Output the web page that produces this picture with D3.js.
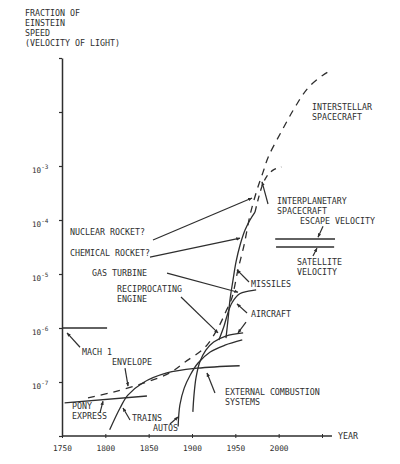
<!DOCTYPE html>
<html>
<head>
<meta charset="utf-8">
<script src="https://cdn.jsdelivr.net/npm/d3@7"></script>
<style>
  body { margin: 0; background: #fff; }
  svg text { font-family: "DejaVu Sans Mono", monospace; fill: #2e2e2e; }
</style>
</head>
<body>
<svg id="chart"></svg>
<script>
// axis ticks
const yearTicks = [1750, 1800, 1850, 1900, 1950, 2000, 2050];
const yearLabels = ['1750', '1800', '1850', '1900', '1950', '2000', ''];
const speedTicks = [1e-1, 1e-2, 1e-3, 1e-4, 1e-5, 1e-6, 1e-7, 1e-8];
const speedExponents = ['', '', '-3', '-4', '-5', '-6', '-7', ''];
const titleLines = ['FRACTION OF', 'EINSTEIN', 'SPEED', '(VELOCITY OF LIGHT)'];

// curves: [year, fraction of light speed]
const ponyExpress = [[1753, 4.1e-8], [1848, 5.5e-8]];
const mach1 = [[1750, 1e-6], [1802, 1e-6]];
const trains = [[1805, 1.3e-8], [1817, 3.3e-8], [1826, 5.7e-8], [1843, 9.6e-8], [1871, 1.47e-7], [1906, 1.8e-7], [1955, 2.0e-7]];
const autos = [[1884, 1.5e-8], [1886, 3.75e-8], [1891, 7.7e-8], [1898, 1.35e-7], [1907, 2.25e-7], [1921, 3.6e-7], [1938, 4.8e-7], [1958, 6.0e-7]];
const reciprocating = [[1901, 2.8e-8], [1902.3, 5.7e-8], [1904.6, 1.19e-7], [1909, 2.35e-7], [1916, 3.9e-7], [1925, 5.5e-7], [1939, 7.1e-7], [1959, 8.1e-7]];
const gasTurbine = [[1931, 6.0e-7], [1937, 1.09e-6], [1940, 1.6e-6], [1946, 2.9e-6], [1955, 4.3e-6], [1965, 4.8e-6], [1974, 5.1e-6]];
const rockets = [[1939.2, 6.5e-7], [1941.5, 1.4e-6], [1943.8, 3.3e-6], [1947.3, 7.7e-6], [1950.8, 1.67e-5], [1955.4, 3.4e-5], [1961.2, 6.5e-5], [1966.9, 1.0e-4], [1972.7, 1.4e-4]];
const interplanetary = [[1972.7, 1.4e-4], [1976, 2.3e-4], [1981, 4.3e-4], [1986.5, 6.5e-4], [1993.5, 8.4e-4], [2003, 9.6e-4]];
const envelope = [[1780, 5.1e-8], [1809, 6.5e-8], [1848, 1.0e-7], [1875, 1.5e-7], [1892, 2.35e-7], [1915, 4.4e-7], [1930, 1.0e-6], [1939, 2.0e-6], [1946, 3.6e-6], [1953, 1.19e-5], [1960, 3.4e-5], [1967, 1.24e-4], [1975, 3.6e-4], [1982, 7.7e-4], [1988, 1.47e-3], [2004, 4.6e-3], [2019, 1.24e-2], [2034, 2.8e-2], [2051, 4.8e-2], [2057, 5.5e-2]];
const escapeVelocity = [[1996, 4.45e-5], [2065, 4.45e-5]];
const satelliteVelocity = [[1997, 3.16e-5], [2064, 3.16e-5]];

// labels: text lines and anchor [year, fraction]
const labelTexts = [
    ['INTERSTELLAR', 'SPACECRAFT'], ['INTERPLANETARY', 'SPACECRAFT'], ['ESCAPE VELOCITY'],
    ['SATELLITE', 'VELOCITY'], ['MISSILES'], ['AIRCRAFT'], ['NUCLEAR ROCKET?'], ['CHEMICAL ROCKET?'],
    ['GAS TURBINE'], ['RECIPROCATING', 'ENGINE'], ['MACH 1'], ['ENVELOPE'], ['PONY', 'EXPRESS'],
    ['TRAINS'], ['AUTOS'], ['EXTERNAL COMBUSTION', 'SYSTEMS'], ['YEAR']
];
const labelAnchors = [
    [2038.5, 1.09e-2], [1998, 1.98e-4], [2024.6, 8.4e-5],
    [2021.2, 1.47e-5], [1968, 5.7e-6], [1968, 1.6e-6], [1759.2, 5.3e-5], [1759.2, 2.15e-5],
    [1784.6, 9.2e-6], [1813.5, 4.6e-6], [1773, 3.2e-7], [1807.7, 2.07e-7], [1761.5, 3.2e-8],
    [1830.8, 1.9e-8], [1855, 1.24e-8], [1938, 5.7e-8], [2068.5, 8.8e-9]
];

// pointer lines: from label to curve (arrow at the second point)
const pointers = [
    [[1855, 4.26e-5], [1969.2, 2.55e-4]],     // nuclear rocket
    [[1851.5, 2.06e-5], [1955.4, 4.6e-5]],    // chemical rocket
    [[1871.2, 1.04e-5], [1953.1, 4.6e-6]],    // gas turbine
    [[1887.3, 3.75e-6], [1930, 8.1e-7]],      // reciprocating
    [[1965.8, 7.1e-6], [1951.9, 1.19e-5]],    // missiles
    [[1963.5, 1.9e-6], [1951.9, 2.8e-6]],     // aircraft
    [[1962.3, 1.29e-6], [1953.1, 8.1e-7]],    // aircraft
    [[1987.7, 1.98e-4], [1980.8, 5.1e-4]],    // interplanetary
    [[2051.2, 7.7e-5], [2045.4, 4.8e-5]],     // escape
    [[2039.6, 2.15e-5], [2044.2, 3.0e-5]],    // satellite
    [[1770.8, 4.4e-7], [1755.8, 8.1e-7]],     // mach 1
    [[1822.7, 1.8e-7], [1826.2, 8.4e-8]],     // envelope
    [[1793.8, 2.67e-8], [1797.3, 4.4e-8]],    // pony express
    [[1828.5, 1.98e-8], [1820.4, 3.3e-8]],    // trains
    [[1874.6, 1.67e-8], [1883.8, 2.25e-8]],   // autos
    [[1926.5, 6.25e-8], [1917.3, 1.47e-7]]    // external combustion
];

class SpeedChart {
    constructor(_config) {
        this.config = {
            parentElement: _config.parentElement,
            containerWidth: _config.containerWidth || 400,
            containerHeight: _config.containerHeight || 464,
            margin: { top: 58, right: 78, bottom: 28, left: 62 }
        }
        this.initVis();
    }

    initVis() {
        let vis = this;
        vis.width = vis.config.containerWidth - vis.config.margin.left - vis.config.margin.right;
        vis.height = vis.config.containerHeight - vis.config.margin.top - vis.config.margin.bottom;

        vis.svg = d3.select(vis.config.parentElement)
            .attr('width', vis.config.containerWidth)
            .attr('height', vis.config.containerHeight);

        vis.svg.append('defs').append('marker')
            .attr('id', 'arrow')
            .attr('viewBox', '0 0 10 10')
            .attr('refX', 9)
            .attr('refY', 5)
            .attr('markerWidth', 3.5)
            .attr('markerHeight', 3.5)
            .attr('orient', 'auto')
            .append('path')
            .attr('d', 'M0,1L10,5L0,9Z')
            .attr('fill', '#2e2e2e');

        vis.chart = vis.svg.append('g')
            .attr('transform', `translate(${vis.config.margin.left},${vis.config.margin.top})`);

        vis.x = d3.scaleLinear().domain([1750, 2050]).range([0, vis.width]);
        vis.y = d3.scaleLog().domain([1e-8, 1e-1]).range([vis.height, 0]);

        vis.updateVis();
    }

    updateVis() {
        let vis = this;
        const ink = '#2e2e2e';

        // title
        vis.svg.append('text')
            .attr('x', 25)
            .attr('y', 16)
            .style('font-size', '8.3px')
            .selectAll('tspan')
            .data(titleLines)
            .join('tspan')
            .attr('x', 25)
            .attr('dy', (d, i) => i === 0 ? 0 : 10)
            .text(d => d);

        // y axis
        const yAxis = d3.axisLeft(vis.y)
            .tickValues(speedTicks)
            .tickSize(3)
            .tickSizeOuter(0)
            .tickFormat('');
        const yg = vis.chart.append('g').call(yAxis);
        yg.select('.domain').attr('stroke', ink).attr('stroke-width', 1.5);
        yg.selectAll('.tick line').attr('stroke', ink).attr('stroke-width', 1.2);
        yg.selectAll('.tick')
            .append('text')
            .attr('x', -30)
            .attr('y', 6)
            .attr('fill', ink)
            .style('font-size', '7.6px')
            .style('text-anchor', 'start')
            .each(function (d, i) {
                if (!speedExponents[i]) return;
                const t = d3.select(this);
                t.append('tspan').text('10');
                t.append('tspan').attr('dy', -4).style('font-size', '6px').text(speedExponents[i]);
            });

        // x axis
        const xAxis = d3.axisBottom(vis.x)
            .tickValues(yearTicks)
            .tickSize(4)
            .tickSizeOuter(0)
            .tickFormat((d, i) => yearLabels[i]);
        const xg = vis.chart.append('g')
            .attr('transform', `translate(0,${vis.height})`)
            .call(xAxis);
        xg.select('.domain').remove();
        xg.selectAll('.tick line').attr('stroke', ink).attr('y1', -2).attr('y2', 2);
        xg.selectAll('.tick text')
            .attr('fill', ink)
            .attr('y', 9)
            .style('font-size', '7.8px')
            .style('font-family', '"DejaVu Sans Mono", monospace');
        xg.append('line')
            .attr('x1', vis.x(1750))
            .attr('x2', vis.x(2061.5))
            .attr('stroke', ink)
            .attr('stroke-width', 1.4);

        const line = d3.line()
            .x(d => vis.x(d[0]))
            .y(d => vis.y(d[1]))
            .curve(d3.curveCatmullRom.alpha(0.5));

        const series = [
            { values: ponyExpress, dash: null },
            { values: mach1, dash: null },
            { values: trains, dash: null },
            { values: autos, dash: null },
            { values: reciprocating, dash: null },
            { values: gasTurbine, dash: null },
            { values: rockets, dash: null },
            { values: interplanetary, dash: '6,5' },
            { values: envelope, dash: '7,6' },
            { values: escapeVelocity, dash: null },
            { values: satelliteVelocity, dash: null }
        ];

        vis.chart.append('g')
            .selectAll('path')
            .data(series)
            .join('path')
            .attr('d', d => line(d.values))
            .attr('fill', 'none')
            .attr('stroke', ink)
            .attr('stroke-width', 1.3)
            .attr('stroke-dasharray', d => d.dash);

        // pointer lines
        vis.chart.append('g')
            .selectAll('line')
            .data(pointers)
            .join('line')
            .attr('x1', d => vis.x(d[0][0]))
            .attr('y1', d => vis.y(d[0][1]))
            .attr('x2', d => vis.x(d[1][0]))
            .attr('y2', d => vis.y(d[1][1]))
            .attr('stroke', ink)
            .attr('stroke-width', 1.2)
            .attr('marker-end', 'url(#arrow)');

        // labels
        vis.chart.append('g')
            .selectAll('text')
            .data(labelTexts)
            .join('text')
            .attr('x', (d, i) => vis.x(labelAnchors[i][0]))
            .attr('y', (d, i) => vis.y(labelAnchors[i][1]))
            .style('font-size', '8.3px')
            .each(function (d, i) {
                d3.select(this).selectAll('tspan')
                    .data(d)
                    .join('tspan')
                    .attr('x', vis.x(labelAnchors[i][0]))
                    .attr('dy', (t, j) => j === 0 ? 0 : 10)
                    .text(t => t);
            });
    }
}

new SpeedChart({ parentElement: '#chart', containerWidth: 400, containerHeight: 464 });
</script>
</body>
</html>
